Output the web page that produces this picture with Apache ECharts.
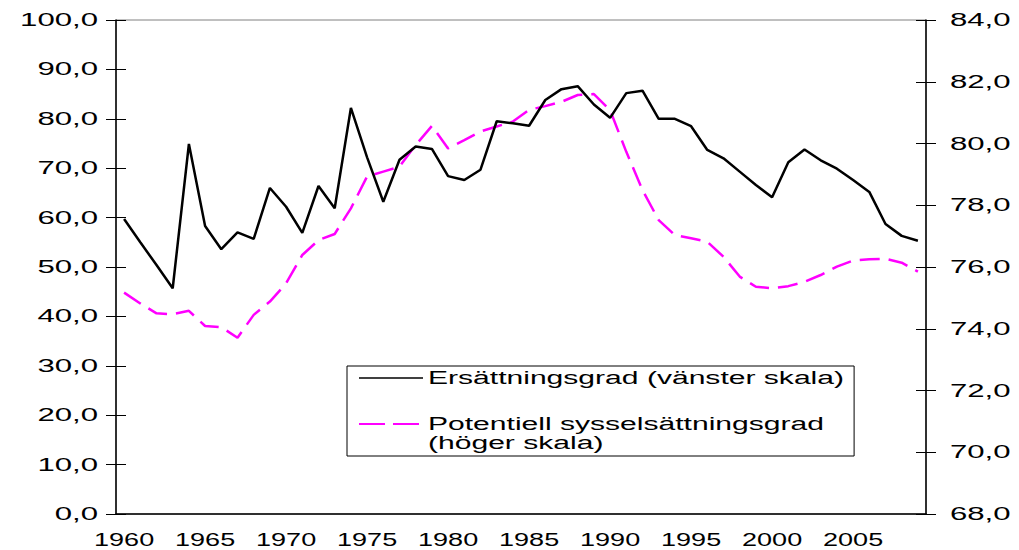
<!DOCTYPE html>
<html>
<head>
<meta charset="utf-8">
<script src="https://cdn.jsdelivr.net/npm/echarts@6/dist/echarts.min.js"></script>
<style>
  html, body { margin: 0; padding: 0; background: #fff; }
  #chart { width: 1019px; height: 550px; }
</style>
</head>
<body>
<div id="chart"></div>
<script>
// år
var years = ['1960','1961','1962','1963','1964','1965','1966','1967','1968','1969',
             '1970','1971','1972','1973','1974','1975','1976','1977','1978','1979',
             '1980','1981','1982','1983','1984','1985','1986','1987','1988','1989',
             '1990','1991','1992','1993','1994','1995','1996','1997','1998','1999',
             '2000','2001','2002','2003','2004','2005','2006','2007','2008','2009'];

// Ersättningsgrad (vänster skala)
var ersattningsgrad = [59.7, 55.0, 50.4, 45.7, 74.9, 58.3, 53.6, 57.0, 55.7, 66.0,
                       62.2, 56.9, 66.4, 61.9, 82.2, 72.2, 63.2, 71.7, 74.4, 73.9,
                       68.4, 67.6, 69.7, 79.5, 79.1, 78.6, 83.8, 86.0, 86.6, 82.9,
                       80.2, 85.2, 85.7, 80.0, 80.0, 78.5, 73.7, 72.0, 69.3, 66.6,
                       64.1, 71.2, 73.8, 71.6, 69.9, 67.6, 65.2, 58.7, 56.3, 55.3];

// Potentiell sysselsättningsgrad (höger skala)
var sysselsattning = [75.17, 74.82, 74.50, 74.47, 74.58, 74.09, 74.05, 73.71, 74.45, 74.88,
                      75.47, 76.39, 76.87, 77.07, 77.90, 78.93, 79.09, 79.25, 79.95, 80.57,
                      79.84, 80.11, 80.39, 80.55, 80.71, 81.09, 81.21, 81.35, 81.57, 81.60,
                      81.08, 79.73, 78.49, 77.52, 77.03, 76.93, 76.82, 76.33, 75.69, 75.36,
                      75.31, 75.38, 75.52, 75.74, 76.01, 76.21, 76.25, 76.27, 76.14, 75.85];

var fontFam = '"Liberation Sans", Arial, sans-serif';

function komma(v) {
    return v.toFixed(1).replace('.', ',');
}

var chart = echarts.init(document.getElementById('chart'), null, { renderer: 'svg' });

var option = {
    animation: false,
    backgroundColor: '#fff',
    textStyle: { fontFamily: fontFam },
    grid: {
        left: 116,
        right: 93,
        top: 20,
        bottom: 36,
        show: true,
        borderColor: '#808080',
        borderWidth: 1
    },
    legend: {
        left: 347,
        top: 366,
        orient: 'vertical',
        padding: [2, 177, 22, 11],
        borderColor: '#000',
        borderWidth: 1,
        itemWidth: 64,
        itemHeight: 20,
        itemGap: 26,
        textStyle: { fontSize: 18, color: '#000', lineHeight: 20, fontFamily: fontFam },
        data: [
            { name: 'Ersättningsgrad (vänster skala)', itemStyle: { opacity: 0 }, lineStyle: { width: 1.5 } },
            { name: 'Potentiell sysselsättningsgrad', itemStyle: { opacity: 0 }, lineStyle: { width: 2, type: [26, 8] } }
        ]
    },
    graphic: [
        {
            type: 'text',
            left: 428,
            top: 434,
            style: { text: '(höger skala)', fill: '#000', font: '18px ' + fontFam }
        }
    ],
    xAxis: [
        {
            type: 'category',
            data: years,
            boundaryGap: true,
            axisLine: { lineStyle: { color: '#000', width: 1.5 } },
            axisTick: { interval: 4, length: 5, lineStyle: { color: '#000' } },
            axisLabel: { interval: 4, fontSize: 18, color: '#000', margin: 17 },
            splitLine: { show: false }
        },
        {
            type: 'category',
            data: years,
            position: 'bottom',
            boundaryGap: true,
            axisLine: { show: false },
            axisTick: { interval: 4, inside: true, length: 6, lineStyle: { color: '#000' } },
            axisLabel: { show: false },
            splitLine: { show: false }
        }
    ],
    yAxis: [
        {
            type: 'value',
            position: 'left',
            min: 0,
            max: 100,
            interval: 10,
            axisLine: { show: true, lineStyle: { color: '#000', width: 1.5 } },
            axisTick: { show: true, length: 10, lineStyle: { color: '#000' } },
            axisLabel: { fontSize: 18, color: '#000', margin: 18, formatter: komma },
            splitLine: { show: false }
        },
        {
            type: 'value',
            position: 'right',
            min: 68,
            max: 84,
            interval: 2,
            axisLine: { show: true, lineStyle: { color: '#000', width: 1.5 } },
            axisTick: { show: true, length: 10, lineStyle: { color: '#000' } },
            axisLabel: { fontSize: 18, color: '#000', margin: 24, formatter: komma },
            splitLine: { show: false }
        },
        {
            type: 'value',
            position: 'left',
            min: 0,
            max: 100,
            interval: 10,
            axisLine: { show: false },
            axisTick: { show: true, inside: true, length: 10, lineStyle: { color: '#000' } },
            axisLabel: { show: false },
            splitLine: { show: false }
        },
        {
            type: 'value',
            position: 'right',
            min: 68,
            max: 84,
            interval: 2,
            axisLine: { show: false },
            axisTick: { show: true, inside: true, length: 10, lineStyle: { color: '#000' } },
            axisLabel: { show: false },
            splitLine: { show: false }
        }
    ],
    series: [
        {
            name: 'Ersättningsgrad (vänster skala)',
            type: 'line',
            xAxisIndex: 0,
            yAxisIndex: 0,
            data: ersattningsgrad,
            symbol: 'none',
            lineStyle: { color: '#000', width: 2.5 },
            itemStyle: { color: '#000' },
            z: 3
        },
        {
            name: 'Potentiell sysselsättningsgrad',
            type: 'line',
            xAxisIndex: 0,
            yAxisIndex: 1,
            data: sysselsattning,
            symbol: 'none',
            lineStyle: { color: '#ff00ff', width: 2.5, type: [20, 9] },
            itemStyle: { color: '#ff00ff' },
            z: 2
        }
    ]
};

chart.setOption(option);

// texten i originalet är bredare än Arial, sträck ut den i sidled
document.querySelectorAll('#chart svg text').forEach(function (t) {
    var s = t.textContent;
    var f = 1.67;
    if (/^\d{4}$/.test(s)) f = 1.5;
    else if (/^\d+,\d$/.test(s)) f = 1.73;
    var w = t.getComputedTextLength();
    if (w > 0) {
        t.setAttribute('textLength', (w * f).toFixed(1));
        t.setAttribute('lengthAdjust', 'spacingAndGlyphs');
    }
});
</script>
</body>
</html>
